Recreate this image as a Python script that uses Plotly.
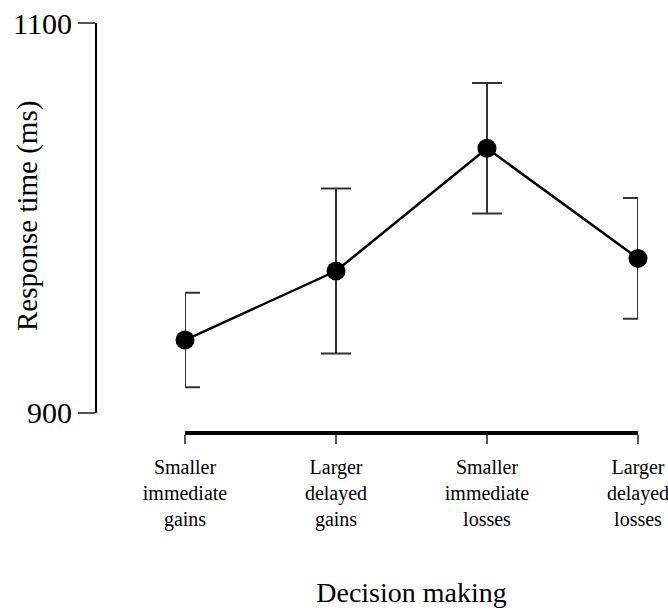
import plotly.graph_objects as go

categories = ["Smaller<br>immediate<br>gains", "Larger<br>delayed<br>gains",
              "Smaller<br>immediate<br>losses", "Larger<br>delayed<br>losses"]
response_ms = [937.3, 972.7, 1035.7, 979.2]
error_ms = [24.3, 42.3, 33.5, 31.0]
y_ticks = [900, 1100]
y_title = "Response time (ms)"
x_title = "Decision making"

FONT = "Times New Roman, Liberation Serif, serif"

fig = go.Figure()
fig.add_trace(go.Scatter(
    x=categories, y=response_ms,
    mode="lines+markers",
    line=dict(color="black", width=2.5),
    marker=dict(color="black", size=19),
    error_y=dict(type="data", array=error_ms, visible=True,
                 color="#333333", thickness=2, width=15),
    cliponaxis=False,
    showlegend=False,
))

W, H = 668, 611
ml, mr, mt, mb = 96, 20, 23, 178
pw = W - ml - mr
ph = H - mt - mb

fig.update_layout(
    width=W, height=H,
    margin=dict(l=ml, r=mr, t=mt, b=mb, autoexpand=False),
    plot_bgcolor="white", paper_bgcolor="white",
    font=dict(family=FONT, color="black"),
    xaxis=dict(
        domain=[(185 - ml) / pw, (638 - ml) / pw],
        anchor="free", position=0,
        range=[0, 3],
        showgrid=False, zeroline=False,
        showline=True, linecolor="black", linewidth=3.5,
        ticks="outside", ticklen=9, tickwidth=2, tickcolor="#555555",
        ticklabelstandoff=6, ticklabeloverflow="allow",
        tickfont=dict(size=20, family=FONT, color="black"),
        title=dict(text=x_title, font=dict(size=28, family=FONT), standoff=52),
        automargin=False,
    ),
    yaxis=dict(
        domain=[(433 - 412.7) / ph, 1],
        anchor="free", position=0,
        range=[900, 1100],
        tickvals=y_ticks,
        showgrid=False, zeroline=False,
        showline=True, linecolor="black", linewidth=2,
        ticks="outside", ticklen=17, tickwidth=2, tickcolor="#555555",
        ticklabeloverflow="allow",
        tickfont=dict(size=30, family=FONT, color="black"),
        automargin=False,
    ),
    annotations=[dict(
        text=y_title, textangle=-90, showarrow=False,
        xref="paper", yref="paper",
        x=(27 - ml) / pw, y=(433 - 216) / ph,
        xanchor="center", yanchor="middle",
        font=dict(size=29, family=FONT, color="black"),
    )],
)

# remove the default 8px page margin so the 668x611 figure fills the window
fig.write_html("out.html",
               config={"displayModeBar": False},
               post_script="document.body.style.margin='0';document.body.style.overflow='hidden';")
